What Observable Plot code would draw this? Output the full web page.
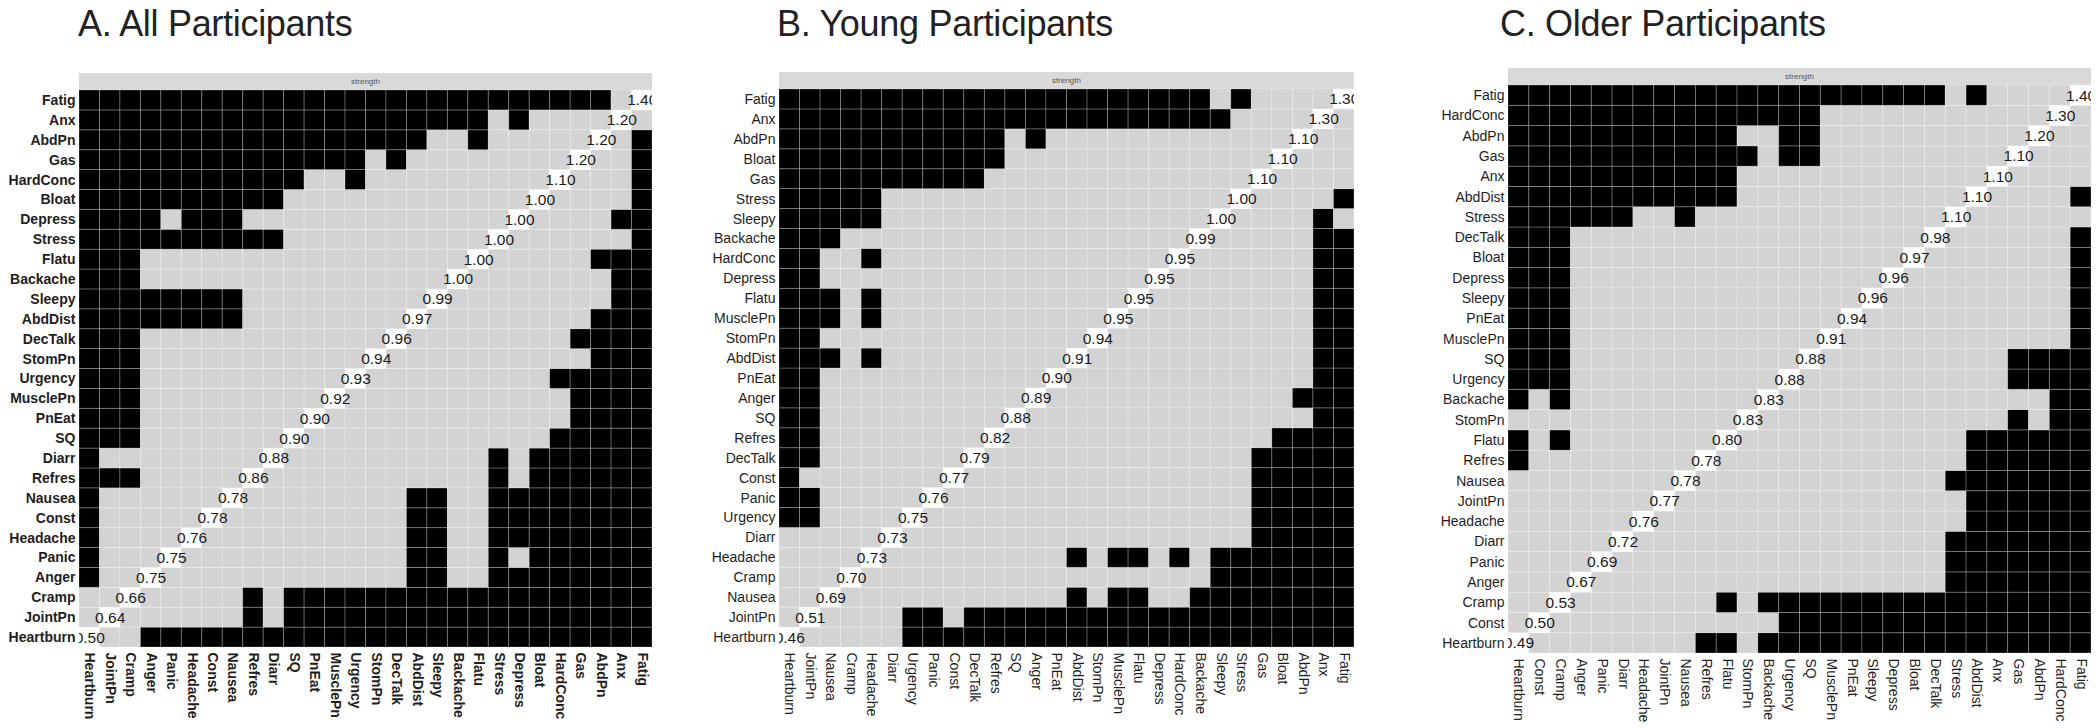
<!DOCTYPE html>
<html>
<head>
<meta charset="utf-8">
<script src="https://cdn.jsdelivr.net/npm/d3@7"></script>
<script src="https://cdn.jsdelivr.net/npm/@observablehq/plot@0.6"></script>
<style>
  html, body { margin: 0; padding: 0; background: #fff; }
  body { width: 2100px; height: 728px; position: relative; overflow: hidden; font-family: "Liberation Sans", Arial, sans-serif; }
  .title { position: absolute; font-size: 36px; line-height: 36px; color: #222; white-space: nowrap; letter-spacing: -0.3px; }
  .strip { position: absolute; background: #d9d9d9; color: #555; font-size: 8px; text-align: center; }
  .panel { position: absolute; }
</style>
</head>
<body>
<script>
// ---------- Panel A: All Participants (ascending strength order) ----------
const ordA = ["Heartburn","JointPn","Cramp","Anger","Panic","Headache","Const","Nausea","Refres","Diarr","SQ","PnEat","MusclePn","Urgency","StomPn","DecTalk","AbdDist","Sleepy","Backache","Flatu","Stress","Depress","Bloat","HardConc","Gas","AbdPn","Anx","Fatig"];
const strA = [0.50,0.64,0.66,0.75,0.75,0.76,0.78,0.78,0.86,0.88,0.90,0.90,0.92,0.93,0.94,0.96,0.97,0.99,1.00,1.00,1.00,1.00,1.00,1.10,1.20,1.20,1.20,1.40];
// significant (black) partners of each symptom, as index ranges into ordA
const sigA = ["3-27","8,10-27","8,10-27","0,16-17,20-27","0,16-17,20,22-27","0,16-17,20-27","0,16-17,20-27","0,16-17,20-27","0-2,20,22-27","0,20,22-27","0-2,23-27","0-2,24-27","0-2,24-27","0-2,23-27","0-2,25-27","0-2,24-27","0-7,25-27","0-7,26-27","0-2,26-27","0-2,25-27","0-9,27","0-3,5-7,26-27","0-9,27","0-10,13,27","0-13,15,27","0-16,19,27","0-19,21","0-25"];

// ---------- Panel B: Young Participants ----------
const ordB = ["Heartburn","JointPn","Nausea","Cramp","Headache","Diarr","Urgency","Panic","Const","DecTalk","Refres","SQ","Anger","PnEat","AbdDist","StomPn","MusclePn","Flatu","Depress","HardConc","Backache","Sleepy","Stress","Gas","Bloat","AbdPn","Anx","Fatig"];
const strB = [0.46,0.51,0.69,0.70,0.73,0.73,0.75,0.76,0.77,0.79,0.82,0.88,0.89,0.90,0.91,0.94,0.95,0.95,0.95,0.95,0.99,1.00,1.00,1.10,1.10,1.10,1.30,1.30];
const sigB = ["6-27","6-7,9-27","14,16-17,20-27","21-27","14,16-17,19,21-27","23-27","0-1,23-27","0-1,23-27","0,23-27","0-1,23-27","0-1,24-27","0-1,26-27","0-1,25-27","0-1,26-27","0-2,4,26-27","0-1,26-27","0-2,4,26-27","0-2,4,26-27","0-1,26-27","0-1,4,26-27","0-2,26-27","0-4,26","0-4,27","0-9","0-10","0-10,12","0-21","0-20,22"];

// ---------- Panel C: Older Participants ----------
const ordC = ["Heartburn","Const","Cramp","Anger","Panic","Diarr","Headache","JointPn","Nausea","Refres","Flatu","StomPn","Backache","Urgency","SQ","MusclePn","PnEat","Sleepy","Depress","Bloat","DecTalk","Stress","AbdDist","Anx","Gas","AbdPn","HardConc","Fatig"];
const strC = [0.49,0.50,0.53,0.67,0.69,0.72,0.76,0.77,0.78,0.78,0.80,0.83,0.83,0.88,0.88,0.91,0.94,0.96,0.96,0.97,0.98,1.10,1.10,1.10,1.10,1.20,1.30,1.40];
const sigC = ["9-10,12-27","13-27","10,12-27","21-27","21-27","21-27","22-27","22-27","21-27","0,22-27","0,2,22-27","24,26-27","0,2,26-27","0-2,24-27","0-2,24-27","0-2,27","0-2,27","0-2,27","0-2,27","0-2,27","0-2,27","0-5,8","0-10,27","0-10","0-11,13-14","0-10,13-14","0-14","0-20,22"];

const titles = ["A. All Participants", "B. Young Participants", "C. Older Participants"];
const stripLabel = "strength";

function expand(spec) {
  const s = new Set();
  spec.split(",").forEach(part => {
    const [a, b] = part.split("-").map(Number);
    const hi = b === undefined ? a : b;
    for (let k = a; k <= hi; k++) s.add(k);
  });
  return s;
}

function buildCells(ord, sig) {
  const cells = [];
  ord.forEach((r, i) => {
    const s = expand(sig[i]);
    ord.forEach((c, j) => {
      cells.push({row: r, col: c, fill: i === j ? "#ffffff" : (s.has(j) ? "#000000" : "#d3d3d3")});
    });
  });
  return cells;
}

const panels = [
  {ord: ordA, str: strA, sig: sigA, title: titles[0], bold: true,
   svgLeft: 0, svgTop: 90, mL: 79, pW: 573, pH: 557, titleLeft: 78, strip: {left: 79, top: 73, width: 573, height: 17}},
  {ord: ordB, str: strB, sig: sigB, title: titles[1], bold: false,
   svgLeft: 700, svgTop: 89, mL: 79, pW: 575, pH: 558, titleLeft: 777, strip: {left: 779, top: 72, width: 575, height: 17}},
  {ord: ordC, str: strC, sig: sigC, title: titles[2], bold: false,
   svgLeft: 1400, svgTop: 85, mL: 108, pW: 583, pH: 568, titleLeft: 1500, strip: {left: 1508, top: 68, width: 583, height: 17}}
];

panels.forEach(p => {
  const t = document.createElement("div");
  t.className = "title";
  t.style.left = p.titleLeft + "px";
  t.style.top = "6px";
  t.textContent = p.title;
  document.body.appendChild(t);

  const st = document.createElement("div");
  st.className = "strip";
  st.style.left = p.strip.left + "px";
  st.style.top = p.strip.top + "px";
  st.style.width = p.strip.width + "px";
  st.style.height = p.strip.height + "px";
  st.style.lineHeight = p.strip.height + "px";
  st.textContent = stripLabel;
  document.body.appendChild(st);

  const height = 728 - p.svgTop;
  const cells = buildCells(p.ord, p.sig);
  const diag = p.ord.map((n, i) => ({n, v: p.str[i]}));
  const chart = Plot.plot({
    width: p.mL + p.pW + 10,
    height,
    marginLeft: p.mL,
    marginRight: 10,
    marginTop: 0,
    marginBottom: height - p.pH,
    style: {fontFamily: "'Liberation Sans', Arial, sans-serif", fontSize: "14px", color: "#1e1e1e", fontWeight: p.bold ? "bold" : "normal", background: "transparent", overflow: "visible"},
    x: {domain: p.ord, padding: 0, round: false, label: null, tickSize: 0, tickPadding: 5, tickRotate: 90},
    y: {domain: p.ord.slice().reverse(), padding: 0, round: false, label: null, tickSize: 0, tickPadding: 4},
    color: {type: "identity"},
    marks: [
      Plot.cell(cells, {x: "col", y: "row", fill: "fill", stroke: "#ffffff", strokeOpacity: 0.28, strokeWidth: 0.9}),
      Plot.text(diag, {x: "n", y: "n", text: d => d.v.toFixed(2), fontSize: 15.5, fontWeight: "normal", fill: "#1a1a1a", clip: true})
    ]
  });
  chart.classList.add("panel");
  chart.style.left = p.svgLeft + "px";
  chart.style.top = p.svgTop + "px";
  document.body.appendChild(chart);
});
</script>
</body>
</html>
